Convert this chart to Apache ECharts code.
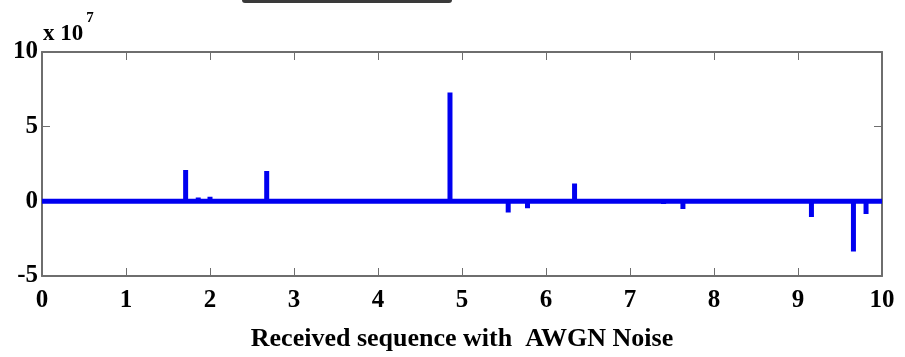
<!DOCTYPE html>
<html>
<head>
<meta charset="utf-8">
<script src="https://cdn.jsdelivr.net/npm/echarts@6/dist/echarts.min.js"></script>
<style>
  html, body { margin: 0; padding: 0; background: #fff; }
  #main { width: 905px; height: 357px; }
</style>
</head>
<body>
<div id="main"></div>
<script>
// spike positions (time) and amplitudes (x 10^7)
let spikeX = [1.71, 1.86, 2.0, 2.675, 4.857, 5.55, 5.78, 6.34, 7.4, 7.63, 9.16, 9.66, 9.81];
let spikeY = [2.1, 0.25, 0.3, 2.03, 7.29, -0.74, -0.47, 1.19, -0.18, -0.52, -1.05, -3.36, -0.85];
let xTicks = [0, 1, 2, 3, 4, 5, 6, 7, 8, 9, 10];
let yTicks = [-5, 0, 5, 10];
let xTitle = "Received sequence with  AWGN Noise";

// the signal goes 0 -> spike -> 0 at each impulse
let signal = [[xTicks[0], 0]];
for (let i = 0; i < spikeX.length; i++) {
  signal.push([spikeX[i], 0], [spikeX[i], spikeY[i]], [spikeX[i], 0]);
}
signal.push([xTicks[xTicks.length - 1], 0]);

let chart = echarts.init(document.getElementById("main"));
let font = "Liberation Serif";
let axisColor = "#6e6e6e";

let boxAxis = {
  axisLine: { show: true, onZero: false, lineStyle: { color: axisColor, width: 2 } },
  axisTick: { show: true, inside: true, length: 8, lineStyle: { color: axisColor, width: 1 } },
  splitLine: { show: false },
};

chart.setOption({
  animation: false,
  grid: { left: 42, right: 23, top: 52, bottom: 80 },
  xAxis: [
    Object.assign({
      type: "value",
      min: xTicks[0],
      max: xTicks[xTicks.length - 1],
      interval: 1,
      position: "bottom",
      name: xTitle,
      nameLocation: "middle",
      nameGap: 50,
      nameTextStyle: { color: "#000", fontFamily: font, fontWeight: "bold", fontSize: 26 },
      axisLabel: { color: "#000", fontFamily: font, fontWeight: "bold", fontSize: 25, margin: 12 },
    }, boxAxis),
    Object.assign({
      type: "value",
      min: xTicks[0],
      max: xTicks[xTicks.length - 1],
      interval: 1,
      position: "top",
      axisLabel: { show: false },
    }, boxAxis),
  ],
  yAxis: [
    Object.assign({
      type: "value",
      min: yTicks[0],
      max: yTicks[yTicks.length - 1],
      interval: 5,
      position: "left",
      axisLabel: { color: "#000", fontFamily: font, fontWeight: "bold", fontSize: 25, margin: 4 },
    }, boxAxis),
    Object.assign({
      type: "value",
      min: yTicks[0],
      max: yTicks[yTicks.length - 1],
      interval: 5,
      position: "right",
      axisLabel: { show: false },
    }, boxAxis),
  ],
  series: [
    {
      type: "line",
      data: signal,
      showSymbol: false,
      symbol: "none",
      lineStyle: { color: "#0000f0", width: 5, join: "miter", cap: "butt" },
      z: 1,
    },
  ],
  graphic: [
    {
      type: "text",
      left: 43,
      top: 11,
      style: {
        text: "{b|x 10}{s|7}",
        rich: {
          b: { fontFamily: font, fontWeight: "bold", fontSize: 23, fill: "#000", verticalAlign: "bottom", padding: [12, 0, 0, 0] },
          s: { fontFamily: font, fontWeight: "bold", fontSize: 15, fill: "#000", verticalAlign: "top", padding: [0, 0, 0, 3] },
        },
      },
    },
    {
      type: "rect",
      shape: { x: 242, y: -5, width: 210, height: 8, r: 3 },
      style: { fill: "#3a3a3a" },
    },
  ],
});
</script>
</body>
</html>
